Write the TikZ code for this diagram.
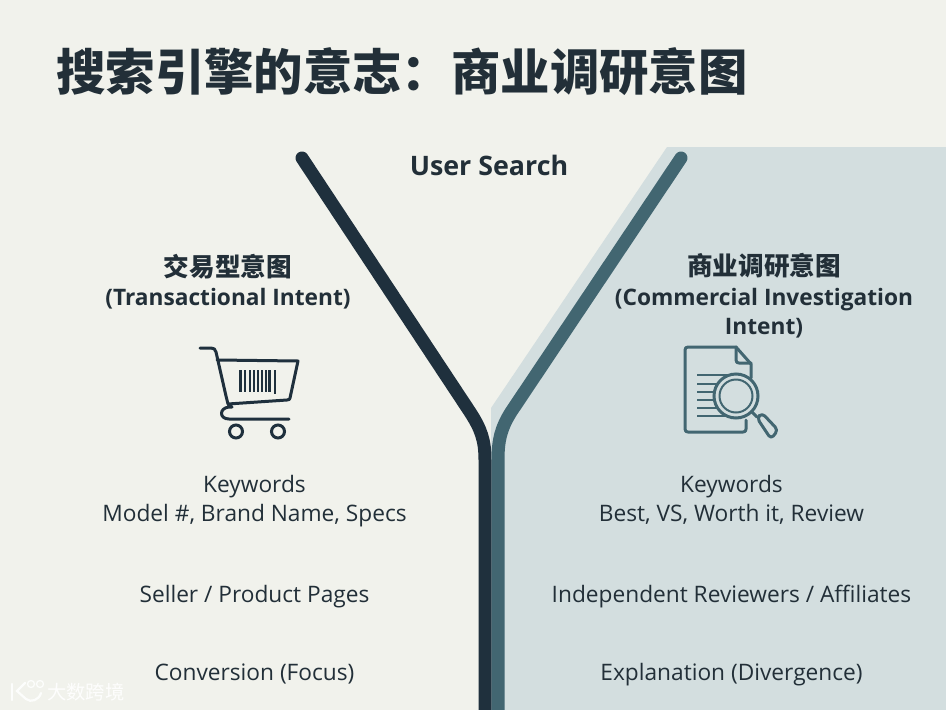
\documentclass[tikz,border=0pt]{standalone}
\usepackage{fontspec}
\setmainfont{Open Sans}
\newfontfamily\cjk{Noto Sans CJK SC}
\definecolor{bgc}{HTML}{F1F2EC}
\definecolor{panelc}{HTML}{D3DEDF}
\definecolor{darkc}{HTML}{1F303D}
\definecolor{tealc}{HTML}{426671}
\definecolor{txtc}{HTML}{222F38}
\tikzset{
 lbl/.style={text=txtc,align=center,inner sep=0pt,font=\fontsize{22.7}{28.5}\selectfont},
 head/.style={text=txtc,align=center,inner sep=0pt,font=\fontsize{22.7}{29.5}\selectfont\bfseries},
 carticon/.style={draw=darkc,line width=3pt,line cap=round,line join=round},
 docicon/.style={draw=tealc,line width=3pt,line cap=round,line join=round},
}
\begin{document}
\begin{tikzpicture}[x=1pt,y=-1pt]
\useasboundingbox (0,0) rectangle (946,710);
\fill[bgc] (0,0) rectangle (946,710);
\fill[panelc] (667,147) -- (946,147) -- (946,710) -- (491,710) -- (491,408) -- cycle;
% funnel
\draw[darkc,line width=13pt,line cap=round] (302,158) -- (470,412) .. controls (481,429) and (485,440) .. (485,460) -- (485,716);
\draw[tealc,line width=13pt,line cap=round] (681,158) -- (511,412) .. controls (501,428) and (498,440) .. (498,460) -- (498,716);
% title
\node[anchor=west,inner sep=0pt,text=txtc] (title) at (56,72) {\cjk\fontsize{49.4}{55}\selectfont\bfseries 搜索引擎的意志：商业调研意图};
\node[head,font=\fontsize{26.8}{32}\selectfont\bfseries] (search) at (489,165.5) {User Search};
% headings
\node[head] (lh) at (228,281.5) {{\cjk\fontsize{25.6}{29.5}\selectfont\bfseries 交易型意图}\\(Transactional Intent)};
\node[head] (rh) at (764,296) {{\cjk\fontsize{25.6}{29.5}\selectfont\bfseries 商业调研意图}\\(Commercial Investigation\\Intent)};
% cart
\draw[carticon] (200,348) -- (211,348) .. controls (214,348) and (215,349) .. (216,352) -- (226,396) -- (228,404) -- (287,400) .. controls (289,400) and (290,399) .. (290,398) -- (298,361) -- (217,360);
\draw[carticon] (228,404) -- (232,407) -- (229,407) .. controls (219,408) and (219,419) .. (229,419) -- (289,419);
\foreach \i/\w in {240.5/2.6,245/1.4,250/2.4,254/1.4,258/1.4,262/1.4,266/1.4,269.5/2.4}
  \draw[draw=darkc,line width=\w pt] (\i,370) -- (\i,392);
\draw[darkc,line width=1.8pt] (275,370) -- (275,394);
\node[draw=darkc,line width=3pt,circle,minimum size=13pt,inner sep=0pt] (w1) at (236,431.5) {};
\node[draw=darkc,line width=3pt,circle,minimum size=13pt,inner sep=0pt] (w2) at (278,431.5) {};
% document
\draw[docicon] (746,420) -- (746,429) .. controls (746,431) and (745,432) .. (743,432) -- (688,432) .. controls (686,432) and (685,431) .. (685,429) -- (685,350) .. controls (685,348) and (686,347) .. (688,347) -- (736,347) -- (751,364) -- (751,378);
\draw[docicon] (736,347) -- (736,360) .. controls (736,362) and (737,363) .. (739,363) -- (751,363);
\foreach \y/\e in {375/728,384/720,392/716,400/715,408/717,416/725}
  \draw[tealc,line width=2.8pt] (697,\y) -- (\e,\y);
\node[draw=tealc,line width=3pt,circle,minimum size=44pt,inner sep=0pt,fill=panelc] (lens) at (736,396) {};
\node[draw=tealc,line width=2pt,circle,minimum size=33pt,inner sep=0pt] (lensin) at (736,396) {};
\draw[docicon] (752,412) -- (757,417);
\draw[docicon,rounded corners=4pt] (757,418) -- (762,413) -- (778,430) -- (771,439) -- cycle;
% left labels
\node[lbl,anchor=base] (l1) at (254.5,521) {Keywords\\Model \#, Brand Name, Specs};
\node[lbl,anchor=base] (l2) at (254.5,602) {Seller / Product Pages};
\node[lbl,anchor=base] (l3) at (254.5,680) {Conversion (Focus)};
% right labels
\node[lbl,anchor=base] (r1) at (731.5,521) {Keywords\\Best, VS, Worth it, Review};
\node[lbl,anchor=base] (r2) at (731.5,602) {Independent Reviewers / Affiliates};
\node[lbl,anchor=base] (r3) at (731.5,680) {Explanation (Divergence)};
% watermark
\begin{scope}[draw=white,line width=2.2pt,line cap=round,opacity=.85]
\draw (12,684) -- (12,700);
\draw (25,683) -- (17,691) -- (26,699) .. controls (31,703) and (39,700) .. (41,693);
\draw[line width=1.3pt] (31,684) circle (3.5pt) (40,684) circle (3.5pt);
\end{scope}
\node[anchor=west,inner sep=0pt,text=white,opacity=.9] (wm) at (47,692) {\cjk\fontsize{19.3}{21}\selectfont 大数跨境};
\end{tikzpicture}
\end{document}
